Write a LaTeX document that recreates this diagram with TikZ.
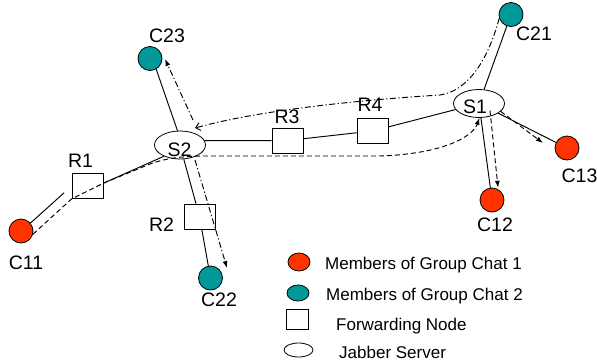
\documentclass[tikz,border=0pt]{standalone}
\usepackage{fontspec}
\setmainfont{Liberation Sans}
\usetikzlibrary{shapes.geometric,arrows.meta,calc}
\definecolor{grpred}{RGB}{255,51,0}
\definecolor{grpteal}{RGB}{0,153,153}
\begin{document}
\begin{tikzpicture}[x=1pt,y=-1pt,
  member/.style={circle,draw,line width=0.8pt,minimum size=24pt,inner sep=0pt},
  fwd/.style={rectangle,draw,line width=0.8pt,minimum width=31pt,minimum height=25pt,inner sep=0pt},
  server/.style={ellipse,draw,line width=0.8pt,minimum width=51pt,minimum height=28pt,inner sep=0pt},
  lab/.style={font=\fontsize{19.5}{20}\selectfont,inner sep=0pt},
  legtext/.style={font=\fontsize{17}{18}\selectfont,anchor=base west,inner sep=0pt},
  link/.style={line width=0.95pt},
  flowone/.style={line width=0.95pt,dash pattern=on 5pt off 3pt,-{Latex[length=7pt,width=5pt]}},
  flowtwo/.style={line width=0.95pt,dash pattern=on 6pt off 2.5pt on 1.2pt off 2.5pt,-{Latex[length=7pt,width=5pt]}},
]
\useasboundingbox (0,0) rectangle (597,362);

% clients
\node[member,fill=grpteal] (C23) at (150,58.5) {};
\node[member,fill=grpteal] (C21) at (511,14.5) {};
\node[member,fill=grpteal] (C22) at (210.5,278) {};
\node[member,fill=grpred] (C11) at (21,231) {};
\node[member,fill=grpred] (C12) at (492,200) {};
\node[member,fill=grpred] (C13) at (567,148) {};

% servers and forwarding nodes
\node[server] (S2) at (180,145) {};
\node[server] (S1) at (479,103.5) {};
\node[fwd] (R1) at (87.5,186) {};
\node[fwd] (R2) at (199.5,216.5) {};
\node[fwd] (R3) at (287.5,140.5) {};
\node[fwd] (R4) at (372.5,131) {};

% labels
\node[lab] (C23l) at (167,36) {C23};
\node[lab] (C21l) at (534,34) {C21};
\node[lab] (C13l) at (579.5,175.5) {C13};
\node[lab] (C12l) at (495,225) {C12};
\node[lab] (C11l) at (26,263) {C11};
\node[lab] (C22l) at (219,300) {C22};
\node[lab] (R1l) at (80.5,161) {R1};
\node[lab] (R2l) at (161.5,225) {R2};
\node[lab] (R3l) at (287,117) {R3};
\node[lab] (R4l) at (370,105) {R4};
\node[lab] (S2l) at (179.5,149.5) {S2};
\node[lab] (S1l) at (475,106.5) {S1};

% physical links
\draw[link] (C23.-60) -- (S2.100);
\draw[link] (S2.-75) -- (R2);
\draw[link] (R2) -- (C22);
\draw[link,shorten >=10pt] (C11.40) -- (R1.west);
\draw[link] (R1.10) -- (S2.215);
\draw[link] (S2.10) -- (R3);
\draw[link] (R3) -- (R4);
\draw[link] (R4) -- (S1);
\draw[link] (S1) -- (C21);
\draw[link] (S1) -- (C13);
\draw[link] (S1) -- (C12);

% group chat 1 message flow
\coordinate (f1a) at (150,164);
\coordinate (f1b) at (205,156);
\coordinate (f1c) at (380,156);
\draw[flowone] (C11.-15) -- (R1.south west) -- (R1.10) -- (f1a)
  .. controls (166,158) and (185,156) .. (f1b) -- (f1c)
  .. controls (440,154) and (472,138) .. (S1.-88);
\coordinate (f1d) at ($(S1)+(11,7)$);
\draw[flowone,shorten >=1.5pt] (f1d) -- (C12.60);
\coordinate (f1e) at ($(C13)+(-24,-5)$);
\draw[flowone] (S1.-20) -- (f1e);

% group chat 2 message flow
\coordinate (f2a) at (440,95);
\coordinate (f2b) at ($(S2)+(15,-17)$);
\draw[line width=0.95pt,dash pattern=on 6pt off 2.5pt on 1.2pt off 2.5pt,-{Straight Barb[length=4.5pt,width=8pt]}]
  (C21.198) .. controls (488,60) and (468,91) .. (f2a)
  .. controls (360,100) and (260,110) .. (f2b);
\coordinate (f2c) at ($(S2)+(13,-25)$);
\coordinate (f2d) at ($(C23)+(15,0.5)$);
\draw[flowtwo] (f2c) -- (f2d);
\coordinate (f2e) at ($(S2)+(15,15)$);
\coordinate (f2f) at ($(C22)+(16.5,-10)$);
\draw[flowtwo] (f2e) -- (f2f);

% legend
\node[ellipse,draw,line width=0.8pt,fill=grpred,minimum width=22pt,minimum height=18pt,inner sep=0pt] (L1) at (299,262) {};
\node[ellipse,draw,line width=0.8pt,fill=grpteal,minimum width=22pt,minimum height=16pt,inner sep=0pt] (L2) at (298,293) {};
\node[rectangle,draw,line width=0.8pt,minimum width=22pt,minimum height=20pt,inner sep=0pt] (L3) at (297,319) {};
\node[ellipse,draw,line width=0.8pt,minimum width=29pt,minimum height=14pt,inner sep=0pt] (L4) at (298.5,350) {};
\node[legtext] (T1) at (325,269) {Members of Group Chat 1};
\node[legtext] (T2) at (326,300.5) {Members of Group Chat 2};
\node[legtext] (T3) at (336,330.5) {Forwarding Node};
\node[legtext] (T4) at (339,358) {Jabber Server};
\end{tikzpicture}
\end{document}
